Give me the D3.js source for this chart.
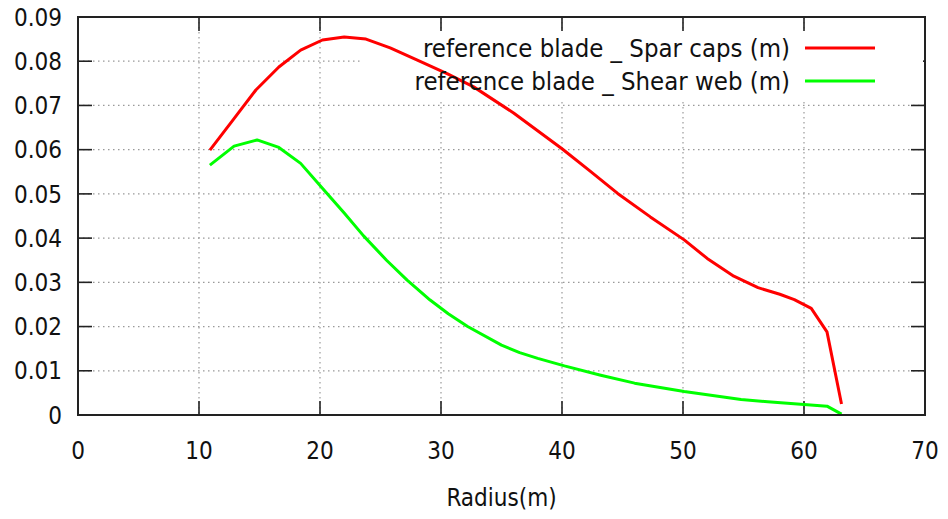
<!DOCTYPE html>
<html>
<head>
<meta charset="utf-8">
<script src="https://cdn.jsdelivr.net/npm/d3@7"></script>
<style>
  body { margin: 0; background: #fff; }
  text { font-family: "DejaVu Sans Condensed", "DejaVu Sans", sans-serif; fill: #111; }
</style>
</head>
<body>
<div id="chart"></div>
<script>
// data
const sparRadius = [10.9, 12.8, 14.7, 16.6, 18.4, 20.2, 22.0, 23.8, 25.8, 28.0, 30.5, 32.7, 36.0, 40.0, 42.3, 44.6, 47.3, 50.1, 52.0, 54.2, 56.2, 58.0, 59.2, 60.6, 61.9, 63.1];
const sparCaps = [0.0599, 0.0667, 0.0735, 0.0787, 0.0825, 0.0848, 0.0855, 0.0850, 0.0830, 0.0803, 0.0772, 0.0742, 0.0683, 0.0602, 0.0552, 0.0501, 0.0448, 0.0396, 0.0354, 0.0314, 0.0288, 0.0273, 0.0261, 0.0241, 0.0188, 0.0025];

const webRadius = [10.9, 12.9, 14.8, 16.6, 18.4, 20.2, 22.0, 23.6, 25.5, 27.2, 29.1, 30.6, 32.2, 35.0, 36.5, 38.0, 40.2, 43.2, 46.0, 50.1, 54.8, 57.0, 60.0, 61.9, 63.1];
const shearWeb = [0.0565, 0.0608, 0.0622, 0.0605, 0.0569, 0.0513, 0.0457, 0.0405, 0.0350, 0.0305, 0.0260, 0.0229, 0.0200, 0.0158, 0.0141, 0.0128, 0.0111, 0.0090, 0.0072, 0.0053, 0.0035, 0.0030, 0.0024, 0.0020, 0.0002];

const xTicks = [0, 10, 20, 30, 40, 50, 60, 70];
const yTicks = [0, 0.01, 0.02, 0.03, 0.04, 0.05, 0.06, 0.07, 0.08, 0.09];

const seriesNames = ['reference blade _ Spar caps (m)', 'reference blade _ Shear web (m)'];
const seriesColors = ['#ff0000', '#00ff00'];
const xLabel = 'Radius(m)';

const config = {
    containerWidth: 948,
    containerHeight: 519,
    margin: { top: 17, right: 23, bottom: 104, left: 78 }
};

const width = config.containerWidth - config.margin.left - config.margin.right;
const height = config.containerHeight - config.margin.top - config.margin.bottom;

const svg = d3.select('#chart').append('svg')
    .attr('width', config.containerWidth)
    .attr('height', config.containerHeight);

const chart = svg.append('g')
    .attr('transform', `translate(${config.margin.left},${config.margin.top})`);

const xScale = d3.scaleLinear().domain([0, 70]).range([0, width]);
const yScale = d3.scaleLinear().domain([0, 0.09]).range([height, 0]);

// dotted grid
const grid = chart.append('g').attr('class', 'grid')
    .attr('stroke', '#999').attr('stroke-width', 1.2).attr('stroke-dasharray', '1.5,3.5');
grid.selectAll('.vgrid')
    .data(xTicks.slice(1, -1))
    .join('line')
    .attr('x1', d => xScale(d)).attr('x2', d => xScale(d))
    .attr('y1', 0).attr('y2', height);
grid.selectAll('.hgrid')
    .data(yTicks.slice(1, -1))
    .join('line')
    .attr('x1', 0).attr('x2', width)
    .attr('y1', d => yScale(d)).attr('y2', d => yScale(d));

// inward ticks on all four sides
const tickLen = 14;
const ticks = chart.append('g').attr('stroke', '#222').attr('stroke-width', 1.6);
ticks.selectAll('.xb').data(xTicks).join('line')
    .attr('x1', d => xScale(d)).attr('x2', d => xScale(d))
    .attr('y1', height).attr('y2', height - tickLen);
ticks.selectAll('.xt').data(xTicks).join('line')
    .attr('x1', d => xScale(d)).attr('x2', d => xScale(d))
    .attr('y1', 0).attr('y2', tickLen);
ticks.selectAll('.yl').data(yTicks).join('line')
    .attr('x1', 0).attr('x2', tickLen)
    .attr('y1', d => yScale(d)).attr('y2', d => yScale(d));
ticks.selectAll('.yr').data(yTicks).join('line')
    .attr('x1', width).attr('x2', width - tickLen)
    .attr('y1', d => yScale(d)).attr('y2', d => yScale(d));

// opaque key box (hides grid, not the curves)
const keyBox = { x: 284, y: 14, w: width - 286, h: 70 };
chart.append('rect')
    .attr('x', keyBox.x).attr('y', keyBox.y)
    .attr('width', keyBox.w).attr('height', keyBox.h)
    .attr('fill', '#fff');

// curves
const line = d3.line().x(d => xScale(d[0])).y(d => yScale(d[1]));
const series = [
    d3.zip(sparRadius, sparCaps),
    d3.zip(webRadius, shearWeb)
];
chart.selectAll('.curve')
    .data(series)
    .join('path')
    .attr('class', 'curve')
    .attr('fill', 'none')
    .attr('stroke', (d, i) => seriesColors[i])
    .attr('stroke-width', 3)
    .attr('stroke-linejoin', 'round')
    .attr('d', line);

// frame
chart.append('rect')
    .attr('width', width).attr('height', height)
    .attr('fill', 'none').attr('stroke', '#222').attr('stroke-width', 2);

// tick labels
svg.append('g').selectAll('text')
    .data(yTicks)
    .join('text')
    .attr('x', 62)
    .attr('y', d => config.margin.top + yScale(d))
    .attr('dy', '0.36em')
    .attr('text-anchor', 'end')
    .attr('font-size', 24)
    .text(d => d === 0 ? '0' : d3.format('.2f')(d));

svg.append('g').selectAll('text')
    .data(xTicks)
    .join('text')
    .attr('x', d => config.margin.left + xScale(d))
    .attr('y', 450)
    .attr('dy', '0.36em')
    .attr('text-anchor', 'middle')
    .attr('font-size', 24)
    .text(d => d);

// axis title
svg.append('text')
    .attr('x', config.margin.left + width / 2)
    .attr('y', 497)
    .attr('dy', '0.36em')
    .attr('text-anchor', 'middle')
    .attr('font-size', 24)
    .text(xLabel);

// legend
const legend = svg.append('g');
seriesNames.forEach((name, i) => {
    const cy = 48 + i * 33;
    legend.append('text')
        .attr('x', 790)
        .attr('y', cy)
        .attr('dy', '0.36em')
        .attr('text-anchor', 'end')
        .attr('font-size', 25.5)
        .text(name);
    legend.append('line')
        .attr('x1', 805).attr('x2', 875)
        .attr('y1', cy).attr('y2', cy)
        .attr('stroke', seriesColors[i])
        .attr('stroke-width', 3);
});
</script>
</body>
</html>
